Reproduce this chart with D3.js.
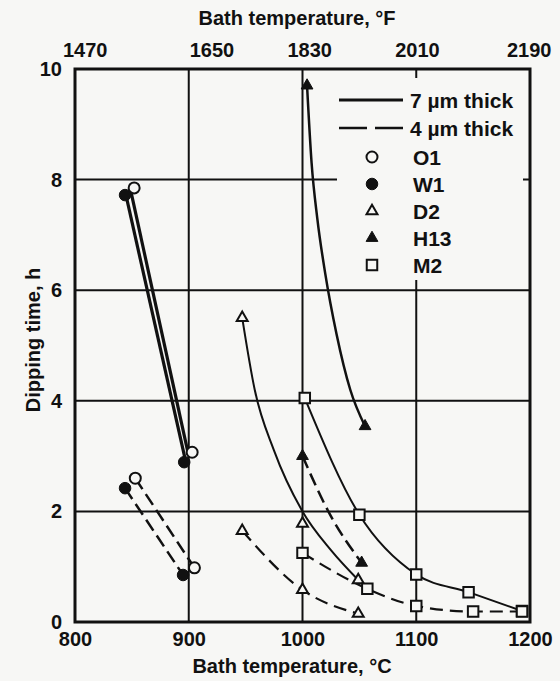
<!DOCTYPE html>
<html lang="en">
<head>
    <meta charset="UTF-8">
    <title>Dipping time vs bath temperature</title>
    <style>
        body {
            margin: 0;
            background-color: #f7f7f5;
        }
        text {
            font-family: "Liberation Sans", Arial, sans-serif;
            font-weight: bold;
            fill: #111;
        }
    </style>
</head>
<body>
    <svg id="chart" width="560" height="681"></svg>

    <script src="https://d3js.org/d3.v7.min.js"></script>
    <script>
        // data: [temperature °C, dipping time h]
        const o1Thick7 = [[852, 7.85], [903, 3.07]];
        const w1Thick7 = [[844, 7.72], [896, 2.89]];
        const o1Thick4 = [[853, 2.6], [905, 0.98]];
        const w1Thick4 = [[844, 2.42], [895, 0.85]];
        const d2Thick7 = [[947, 5.5], [1000, 1.78], [1049, 0.76]];
        const d2Thick4 = [[947, 1.65], [1000, 0.58], [1049, 0.15]];
        const h13Thick7 = [[1004, 9.7], [1055, 3.54]];
        const h13Thick4 = [[1000, 3.0], [1052, 1.07]];
        const m2Thick7 = [[1002, 4.05], [1050, 1.94], [1100, 0.86], [1146, 0.54], [1193, 0.2]];
        const m2Thick4 = [[1000, 1.25], [1057, 0.6], [1100, 0.29], [1150, 0.19], [1193, 0.19]];

        // drawn lines (they do not always pass through the markers)
        const o1Line7 = [[849, 7.8], [900, 3.0]];
        const w1Line7 = [[845, 7.7], [897, 2.93]];
        const d2Curve7 = [[947, 5.5], [958, 4.2], [975, 3.1], [1000, 2.0], [1025, 1.3], [1049, 0.76]];
        const h13Curve7 = [[1004, 9.7], [1008, 8.3], [1013, 7.3], [1020, 6.3], [1030, 5.2], [1042, 4.2], [1055, 3.54]];
        const h13Curve4 = [[1000, 3.0], [1024, 1.95], [1052, 1.07]];

        const celsiusTicks = [800, 900, 1000, 1100, 1200];
        const fahrenheitTicks = [1470, 1650, 1830, 2010, 2190];
        const fahrenheitNudge = [11, 24, 8, 2, 0];   // the printed labels sit a little off their ticks
        const hourTicks = [0, 2, 4, 6, 8, 10];
        const legendSteels = ["O1", "W1", "D2", "H13", "M2"];

        const ink = "#111";
        const paper = "#f7f7f5";

        const svg = d3.select("#chart");
        const plotLeft = 75, plotRight = 530, plotTop = 69, plotBottom = 622;

        const x = d3.scaleLinear().domain([800, 1200]).range([plotLeft, plotRight]);
        const y = d3.scaleLinear().domain([0, 10]).range([plotBottom, plotTop]);
        const toC = f => (f - 32) * 5 / 9;
        const xF = d3.scaleLinear()
            .domain([1470, 2190])
            .range([x(toC(1470)), x(toC(2190))]);

        // grid
        const grid = svg.append("g").attr("stroke", ink).attr("stroke-width", 2);
        grid.selectAll("line.h")
            .data(hourTicks.filter(d => d > 0 && d < 10))
            .join("line")
            .attr("class", "h")
            .attr("x1", plotLeft).attr("x2", plotRight)
            .attr("y1", d => y(d)).attr("y2", d => y(d));
        grid.selectAll("line.v")
            .data(celsiusTicks.filter(d => d > 800 && d < 1200))
            .join("line")
            .attr("class", "v")
            .attr("x1", d => x(d)).attr("x2", d => x(d))
            .attr("y1", plotTop).attr("y2", plotBottom);

        // legend background hides the grid
        svg.append("rect")
            .attr("x", 337).attr("y", 78)
            .attr("width", 186).attr("height", 202)
            .attr("fill", paper);

        // axes
        const fmt = d3.format("d");
        const bottomAxis = svg.append("g")
            .attr("transform", `translate(0,${plotBottom})`)
            .call(d3.axisBottom(x).tickValues(celsiusTicks).tickFormat(fmt).tickSize(0).tickPadding(10));
        const topAxis = svg.append("g")
            .attr("transform", `translate(0,${plotTop})`)
            .call(d3.axisTop(xF).tickValues(fahrenheitTicks).tickFormat(fmt).tickSize(0).tickPadding(12));
        const leftAxis = svg.append("g")
            .attr("transform", `translate(${plotLeft},0)`)
            .call(d3.axisLeft(y).tickValues(hourTicks).tickFormat(fmt).tickSize(0).tickPadding(13));
        [bottomAxis, topAxis, leftAxis].forEach(a => {
            a.select(".domain").remove();
            a.selectAll("text")
                .attr("fill", ink)
                .style("font-size", "20px");
        });
        topAxis.selectAll(".tick text").attr("dx", (d, i) => fahrenheitNudge[i]);

        svg.append("text")
            .attr("x", 292).attr("y", 673)
            .attr("text-anchor", "middle")
            .style("font-size", "20px")
            .text("Bath temperature, °C");
        svg.append("text")
            .attr("x", 297).attr("y", 25)
            .attr("text-anchor", "middle")
            .style("font-size", "20px")
            .text("Bath temperature, °F");
        svg.append("text")
            .attr("transform", "translate(40,340) rotate(-90)")
            .attr("text-anchor", "middle")
            .style("font-size", "20px")
            .text("Dipping time, h");

        // curves
        const line = d3.line()
            .x(d => x(d[0]))
            .y(d => y(d[1]))
            .curve(d3.curveMonotoneX);

        const curves = [
            { pts: o1Line7, dash: null, w: 3.2 },
            { pts: w1Line7, dash: null, w: 3.2 },
            { pts: o1Thick4, dash: "13,6", w: 2.5 },
            { pts: w1Thick4, dash: "13,6", w: 2.5 },
            { pts: d2Curve7, dash: null, w: 2 },
            { pts: d2Thick4, dash: "13,7", w: 2.2 },
            { pts: h13Curve7, dash: null, w: 2.5 },
            { pts: h13Curve4, dash: "13,6", w: 2.5 },
            { pts: m2Thick7, dash: null, w: 2 },
            { pts: m2Thick4, dash: "13,7", w: 2.2 }
        ];
        svg.append("g")
            .selectAll("path")
            .data(curves)
            .join("path")
            .attr("d", d => line(d.pts))
            .attr("fill", "none")
            .attr("stroke", ink)
            .attr("stroke-width", d => d.w)
            .attr("stroke-dasharray", d => d.dash);

        // markers
        const shapes = {
            O1: { type: d3.symbolCircle, size: 95, filled: false },
            W1: { type: d3.symbolCircle, size: 105, filled: true },
            D2: { type: d3.symbolTriangle, size: 52, filled: false },
            H13: { type: d3.symbolTriangle, size: 60, filled: true },
            M2: { type: d3.symbolSquare, size: 110, filled: false }
        };
        const markerSets = [
            ["W1", w1Thick7], ["W1", w1Thick4],
            ["O1", o1Thick7], ["O1", o1Thick4],
            ["D2", d2Thick7], ["D2", d2Thick4],
            ["H13", h13Thick7], ["H13", h13Thick4],
            ["M2", m2Thick7], ["M2", m2Thick4]
        ];
        const markerData = markerSets.flatMap(([steel, pts]) => pts.map(p => ({ steel, p })));

        function drawSymbol(sel, steel) {
            const s = shapes[steel];
            sel.attr("d", d3.symbol().type(s.type).size(s.size)())
                .attr("fill", s.filled ? ink : paper)
                .attr("stroke", ink)
                .attr("stroke-width", s.filled ? 1 : 2);
        }

        svg.append("g")
            .selectAll("path")
            .data(markerData)
            .join("path")
            .attr("transform", d => `translate(${x(d.p[0])},${y(d.p[1])})`)
            .each(function (d) { drawSymbol(d3.select(this), d.steel); });

        // legend
        const legend = svg.append("g");
        legend.append("line")
            .attr("x1", 339).attr("x2", 403).attr("y1", 100).attr("y2", 100)
            .attr("stroke", ink).attr("stroke-width", 3);
        legend.append("line")
            .attr("x1", 339).attr("x2", 403).attr("y1", 128).attr("y2", 128)
            .attr("stroke", ink).attr("stroke-width", 2.5)
            .attr("stroke-dasharray", "28,8");
        legend.append("text").attr("x", 410).attr("y", 108)
            .style("font-size", "21px").text("7 µm thick");
        legend.append("text").attr("x", 410).attr("y", 136)
            .style("font-size", "21px").text("4 µm thick");

        const rows = legend.selectAll("g.row")
            .data(legendSteels)
            .join("g")
            .attr("class", "row")
            .attr("transform", (d, i) => `translate(372,${157 + i * 27})`);
        rows.append("path").each(function (d) { drawSymbol(d3.select(this), d); });
        rows.append("text")
            .attr("x", 41).attr("y", 7.5)
            .style("font-size", "21px")
            .text(d => d);

        // frame
        svg.append("rect")
            .attr("x", plotLeft).attr("y", plotTop)
            .attr("width", plotRight - plotLeft).attr("height", plotBottom - plotTop)
            .attr("fill", "none")
            .attr("stroke", ink)
            .attr("stroke-width", 3);
    </script>
</body>
</html>
